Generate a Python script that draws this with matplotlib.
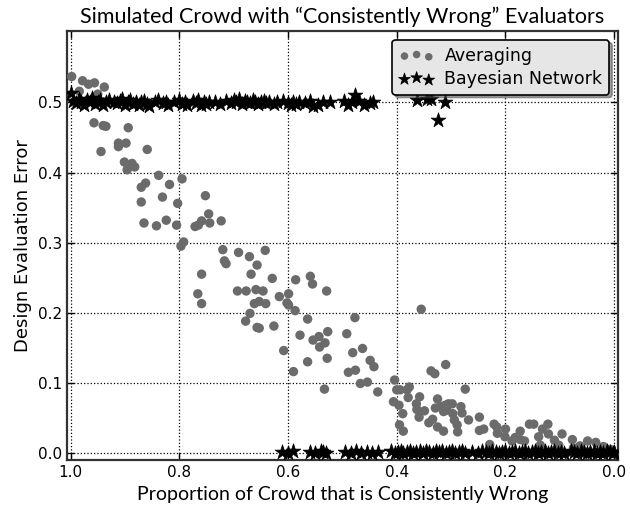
import matplotlib.pyplot as plt
import numpy as np

# Averaging (gray dots)
avg_x = [0.998, 0.978, 0.984, 0.967, 0.956, 0.938, 0.950, 0.957, 0.940, 0.935,
         0.894, 0.944, 0.912, 0.912, 0.898, 0.859, 0.901, 0.887, 0.882, 0.896,
         0.838, 0.870, 0.862, 0.818, 0.795, 0.870, 0.831, 0.803, 0.752, 0.746,
         0.865, 0.842, 0.824, 0.805, 0.771, 0.765, 0.759, 0.744, 0.723, 0.792,
         0.797, 0.720, 0.691, 0.671, 0.642, 0.717, 0.714, 0.657, 0.759, 0.668,
         0.629, 0.586, 0.559, 0.555, 0.529, 0.766, 0.759, 0.693, 0.677, 0.659,
         0.646, 0.662, 0.653, 0.641, 0.616, 0.599, 0.602, 0.599, 0.587, 0.670,
         0.678, 0.657, 0.653, 0.626, 0.564, 0.578, 0.554, 0.543, 0.542, 0.532,
         0.527, 0.608, 0.564, 0.528, 0.590, 0.533, 0.492, 0.477, 0.481, 0.489,
         0.476, 0.467, 0.463, 0.454, 0.449, 0.442, 0.435, 0.355, 0.337, 0.330,
         0.310, 0.404, 0.400, 0.394, 0.377, 0.381, 0.379, 0.406, 0.396, 0.389,
         0.395, 0.388, 0.364, 0.358, 0.363, 0.349, 0.359, 0.341, 0.334, 0.325,
         0.329, 0.320, 0.314, 0.325, 0.314, 0.311, 0.305, 0.298, 0.308, 0.297,
         0.294, 0.289, 0.288, 0.282, 0.280, 0.274, 0.268, 0.248, 0.248, 0.240,
         0.229, 0.221, 0.216, 0.215, 0.200, 0.201, 0.188, 0.182, 0.173, 0.173,
         0.165, 0.156, 0.148, 0.132, 0.122, 0.139, 0.121, 0.110, 0.136, 0.096,
         0.102, 0.077, 0.049, 0.034, 0.063, 0.020, 0.075, 0.007]
avg_y = [0.537, 0.531, 0.516, 0.526, 0.528, 0.522, 0.512, 0.471, 0.467, 0.466,
         0.464, 0.430, 0.442, 0.437, 0.442, 0.433, 0.415, 0.413, 0.408, 0.404,
         0.396, 0.379, 0.385, 0.383, 0.391, 0.358, 0.365, 0.356, 0.367, 0.341,
         0.328, 0.324, 0.332, 0.325, 0.323, 0.325, 0.331, 0.328, 0.331, 0.301,
         0.295, 0.290, 0.286, 0.280, 0.289, 0.274, 0.270, 0.268, 0.255, 0.255,
         0.249, 0.247, 0.252, 0.241, 0.231, 0.227, 0.213, 0.231, 0.231, 0.233,
         0.231, 0.213, 0.216, 0.213, 0.223, 0.227, 0.214, 0.211, 0.203, 0.199,
         0.188, 0.179, 0.178, 0.181, 0.191, 0.168, 0.161, 0.166, 0.151, 0.157,
         0.173, 0.146, 0.130, 0.135, 0.116, 0.091, 0.170, 0.193, 0.143, 0.115,
         0.118, 0.099, 0.149, 0.101, 0.132, 0.123, 0.087, 0.205, 0.117, 0.113,
         0.126, 0.104, 0.090, 0.090, 0.094, 0.090, 0.079, 0.073, 0.068, 0.056,
         0.040, 0.031, 0.070, 0.080, 0.062, 0.060, 0.051, 0.043, 0.048, 0.077,
         0.064, 0.066, 0.059, 0.037, 0.031, 0.068, 0.070, 0.070, 0.061, 0.056,
         0.047, 0.040, 0.030, 0.066, 0.057, 0.091, 0.047, 0.051, 0.032, 0.034,
         0.012, 0.041, 0.037, 0.028, 0.034, 0.023, 0.017, 0.022, 0.031, 0.019,
         0.017, 0.041, 0.041, 0.034, 0.041, 0.023, 0.027, 0.018, 0.011, 0.027,
         0.011, 0.019, 0.017, 0.015, 0.010, 0.009, 0.007, 0.005]

# Bayesian Network (stars) near 0.5
bn_hi_x = [1.0, 0.995, 0.99, 0.985, 0.98, 0.975, 0.97, 0.965, 0.96, 0.955,
           0.95, 0.945, 0.94, 0.935, 0.93, 0.92, 0.915, 0.91, 0.905, 0.9, 0.895,
           0.89, 0.885, 0.88, 0.875, 0.87, 0.865, 0.86, 0.855, 0.845, 0.84,
           0.83, 0.825, 0.82, 0.81, 0.8, 0.795, 0.79, 0.785, 0.775, 0.77,
           0.765, 0.76, 0.755, 0.75, 0.745, 0.735, 0.725, 0.715, 0.705, 0.7, 0.695,
           0.69, 0.685, 0.68, 0.675, 0.67, 0.665, 0.66, 0.655, 0.65, 0.645,
           0.64, 0.635, 0.625, 0.62, 0.61, 0.6, 0.595, 0.59, 0.585, 0.58,
           0.568, 0.56, 0.555, 0.545, 0.535, 0.522, 0.497, 0.49, 0.482, 0.477,
           0.47, 0.46, 0.45, 0.444, 0.362, 0.345, 0.337, 0.311, 0.325]
bn_hi_y = [0.513, 0.502, 0.499, 0.505, 0.500, 0.497, 0.503, 0.500, 0.506, 0.498,
           0.501, 0.504, 0.497, 0.500, 0.503, 0.500, 0.499, 0.502, 0.505, 0.497, 0.500,
           0.503, 0.498, 0.501, 0.496, 0.500, 0.502, 0.498, 0.495, 0.500, 0.503,
           0.499, 0.501, 0.497, 0.500, 0.504, 0.498, 0.501, 0.496, 0.502, 0.499,
           0.503, 0.497, 0.500, 0.498, 0.501, 0.500, 0.498, 0.502, 0.499, 0.503, 0.501,
           0.505, 0.498, 0.502, 0.500, 0.499, 0.503, 0.501, 0.498, 0.500, 0.502,
           0.499, 0.501, 0.498, 0.500, 0.502, 0.499, 0.496, 0.501, 0.498, 0.500,
           0.499, 0.502, 0.495, 0.497, 0.501, 0.500, 0.502, 0.497, 0.500, 0.511,
           0.502, 0.496, 0.499, 0.501, 0.504, 0.505, 0.505, 0.501, 0.475]

# Bayesian Network (stars) near 0.0
bn_lo_x = [0.612, 0.6, 0.59, 0.56, 0.55, 0.54, 0.535, 0.53, 0.495, 0.485,
           0.475, 0.465, 0.455, 0.445, 0.435, 0.41, 0.404, 0.398, 0.393, 0.388,
           0.382, 0.376, 0.37, 0.364, 0.358, 0.352, 0.346, 0.34, 0.334, 0.328,
           0.322, 0.316, 0.31, 0.304, 0.298, 0.292, 0.286, 0.28, 0.274, 0.262,
           0.25, 0.243, 0.236, 0.23, 0.224, 0.218, 0.212, 0.206, 0.2, 0.194,
           0.188, 0.182, 0.176, 0.17, 0.164, 0.158, 0.152, 0.146, 0.14, 0.134,
           0.128, 0.122, 0.116, 0.11, 0.104, 0.098, 0.092, 0.08, 0.074, 0.068,
           0.062, 0.056, 0.05, 0.044, 0.038, 0.032, 0.026, 0.02, 0.014, 0.008,
           0.003, 0.0]
bn_lo_y = [0.001, 0.0, 0.002, 0.001, 0.0, 0.002, 0.001, 0.0, 0.001, 0.0,
           0.002, 0.0, 0.001, 0.0, 0.001, 0.002, 0.0, 0.001, 0.003, 0.0,
           0.001, 0.002, 0.0, 0.001, 0.003, 0.0, 0.002, 0.001, 0.0, 0.002,
           0.001, 0.003, 0.0, 0.001, 0.002, 0.0, 0.001, 0.002, 0.0, 0.001,
           0.0, 0.002, 0.001, 0.0, 0.002, 0.001, 0.0, 0.001, 0.002, 0.0,
           0.001, 0.003, 0.0, 0.001, 0.002, 0.0, 0.001, 0.002, 0.0, 0.001,
           0.003, 0.0, 0.001, 0.002, 0.0, 0.001, 0.0, 0.002, 0.001, 0.0,
           0.002, 0.001, 0.0, 0.001, 0.002, 0.0, 0.001, 0.0, 0.002, 0.001,
           0.0, 0.001]

bn_x = bn_hi_x + bn_lo_x
bn_y = bn_hi_y + bn_lo_y

xticks = [1.0, 0.8, 0.6, 0.4, 0.2, 0.0]
yticks = [0.0, 0.1, 0.2, 0.3, 0.4, 0.5]

fig = plt.figure(figsize=(6.3, 5.08), dpi=100)
ax = fig.add_axes([0.106, 0.094, 0.875, 0.845])

ax.scatter(avg_x, avg_y, s=46, c='#6b6b6b', edgecolors='none', label='Averaging', zorder=3)
ax.scatter(bn_x, bn_y, s=125, marker='*', c='black', edgecolors='black', linewidths=0.5,
           label='Bayesian Network', zorder=4)

ax.set_xlim(1.007, -0.007)
ax.set_ylim(-0.0105, 0.602)
ax.set_xticks(xticks)
ax.set_yticks(yticks)
ax.tick_params(direction='in', length=5, width=1, top=True, right=True, labelsize=11, colors='black')
ax.grid(True, color='black', linestyle=':', linewidth=0.9)
ax.set_axisbelow(True)
for sp in ax.spines.values():
    sp.set_linewidth(1.6)
    sp.set_color('#333333')

ax.set_title('Simulated Crowd with \u201cConsistently Wrong\u201d Evaluators',
             fontfamily='Lato', fontsize=15.5, pad=6)
ax.set_xlabel('Proportion of Crowd that is Consistently Wrong', fontfamily='Lato', fontsize=14)
ax.set_ylabel('Design Evaluation Error', fontsize=13)

leg = ax.legend(loc='upper right', scatterpoints=3, fontsize=12.5, fancybox=True,
                shadow=True, framealpha=1, borderaxespad=0.5, handletextpad=0.6,
                borderpad=0.4, labelspacing=0.3, markerscale=0.8)
leg.get_frame().set_facecolor('#e6e6e6')
leg.get_frame().set_edgecolor('black')
leg.get_frame().set_linewidth(1.2)

fig.savefig('out.png', dpi=100)
